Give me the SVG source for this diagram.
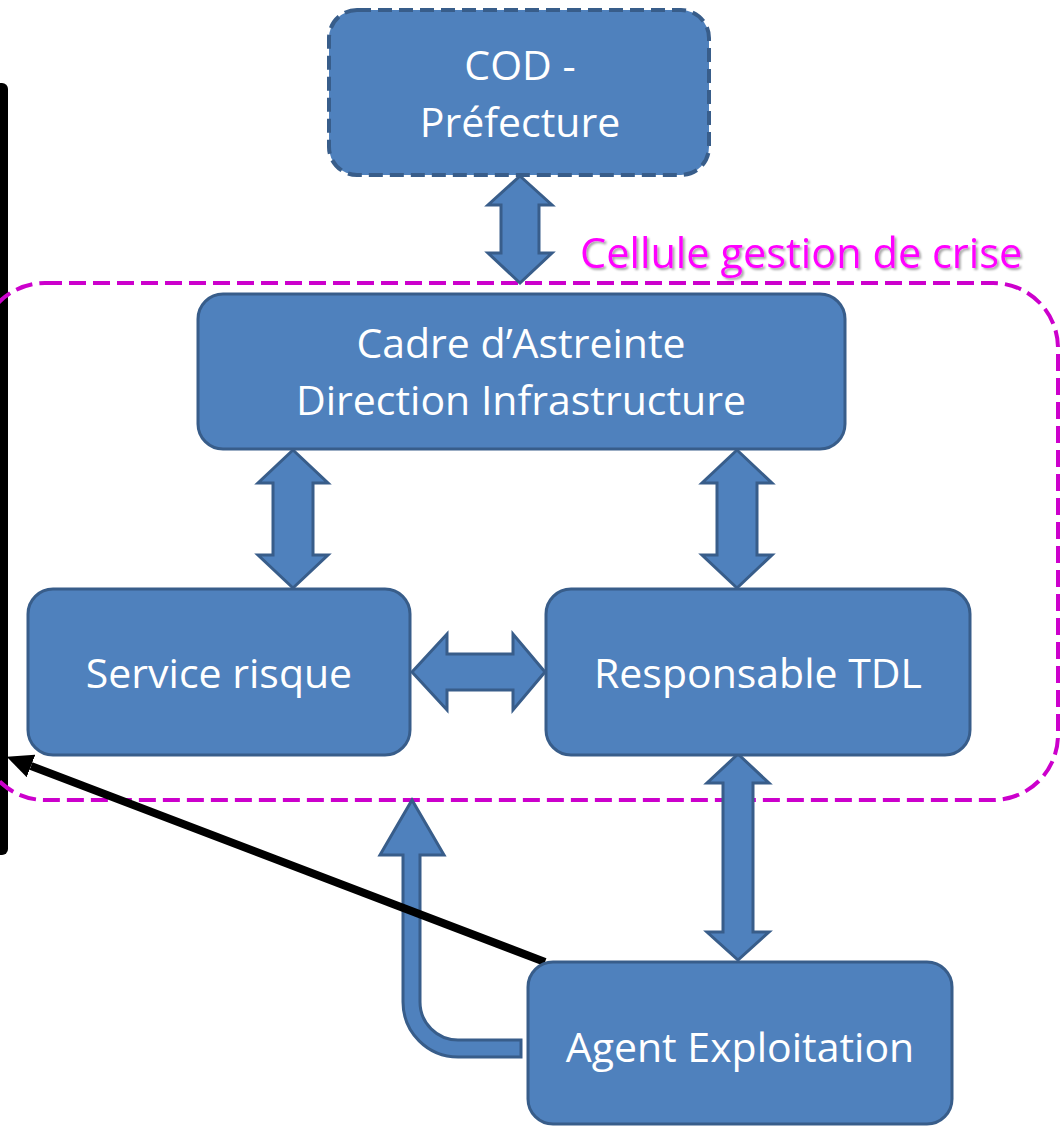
<svg xmlns="http://www.w3.org/2000/svg" width="1064" height="1127" viewBox="0 0 1064 1127">
<defs>
<style>
.box{fill:#4F81BD;stroke:#385D8A;stroke-width:3}
.arr{fill:#4F81BD;stroke:#385D8A;stroke-width:3;stroke-linejoin:miter}
.t{font-family:"Open Sans","Liberation Sans",sans-serif;font-size:41px;fill:#fff;text-anchor:middle}
.lbl{font-family:"Open Sans","Liberation Sans",sans-serif;font-size:41.5px;fill:#FF00FF}
</style>
<filter id="sh" x="-5%" y="-20%" width="110%" height="150%">
<feDropShadow dx="2" dy="2" stdDeviation="1.2" flood-color="#000" flood-opacity="0.35"/>
</filter>
<marker id="ah" markerUnits="userSpaceOnUse" markerWidth="26" markerHeight="24" viewBox="0 0 26 24" refX="0" refY="12" orient="auto">
<path d="M0,0 L26,12 L0,24 Z" fill="#000"/>
</marker>
</defs>

<g id="bracket">
<rect x="-20" y="83" width="28" height="772" rx="6" fill="#000"/>
</g>

<g id="cellule">
<rect x="-20" y="283" width="1078" height="517" rx="65" fill="none" stroke="#CC00CC" stroke-width="4" stroke-dasharray="17 7"/>
<text class="lbl" x="580" y="268" filter="url(#sh)">Cellule gestion de crise</text>
</g>

<g id="connectors">
<path class="arr" d="M520,176 L552,205 L539,205 L539,253 L552,253 L520,283 L488,253 L501,253 L501,205 L488,205 Z"/>
<path class="arr" d="M293,450 L328,483 L313,483 L313,555 L328,555 L293,588 L258,555 L273,555 L273,483 L258,483 Z"/>
<path class="arr" d="M737,450 L772,483 L757,483 L757,555 L772,555 L737,588 L702,555 L717,555 L717,483 L702,483 Z"/>
<path class="arr" d="M412,672 L447,634 L447,654 L513,654 L513,634 L545,672 L513,710 L513,690 L447,690 L447,710 Z"/>
<path class="arr" d="M738,754 L769,783 L753,783 L753,932 L769,932 L738,960 L707,932 L723,932 L723,783 L707,783 Z"/>
<path class="arr" d="M412,800 L444,855 L420,855 L420,1002 A38,38 0 0 0 458,1040 L521,1040 L521,1057 L458,1057 A55,55 0 0 1 403,1002 L403,855 L380,855 Z"/>
<line x1="545" y1="962" x2="31" y2="766" stroke="#000" stroke-width="8" marker-end="url(#ah)"/>
</g>

<g id="cod">
<rect x="329" y="10" width="380" height="165" rx="28" fill="#4F81BD" stroke="#385D8A" stroke-width="4" stroke-dasharray="14 7"/>
<text class="t" x="520" y="80">COD -</text>
<text class="t" x="520" y="137">Préfecture</text>
</g>

<g id="cadre">
<rect class="box" x="198" y="294" width="647" height="155" rx="25"/>
<text class="t" x="521" y="358">Cadre d’Astreinte</text>
<text class="t" x="521" y="415">Direction Infrastructure</text>
</g>

<g id="service">
<rect class="box" x="28" y="589" width="382" height="166" rx="25"/>
<text class="t" x="219" y="688">Service risque</text>
</g>

<g id="tdl">
<rect class="box" x="546" y="589" width="424" height="166" rx="25"/>
<text class="t" x="758" y="688">Responsable TDL</text>
</g>

<g id="agent">
<rect class="box" x="528" y="962" width="424" height="162" rx="25"/>
<text class="t" x="740" y="1062">Agent Exploitation</text>
</g>
</svg>
